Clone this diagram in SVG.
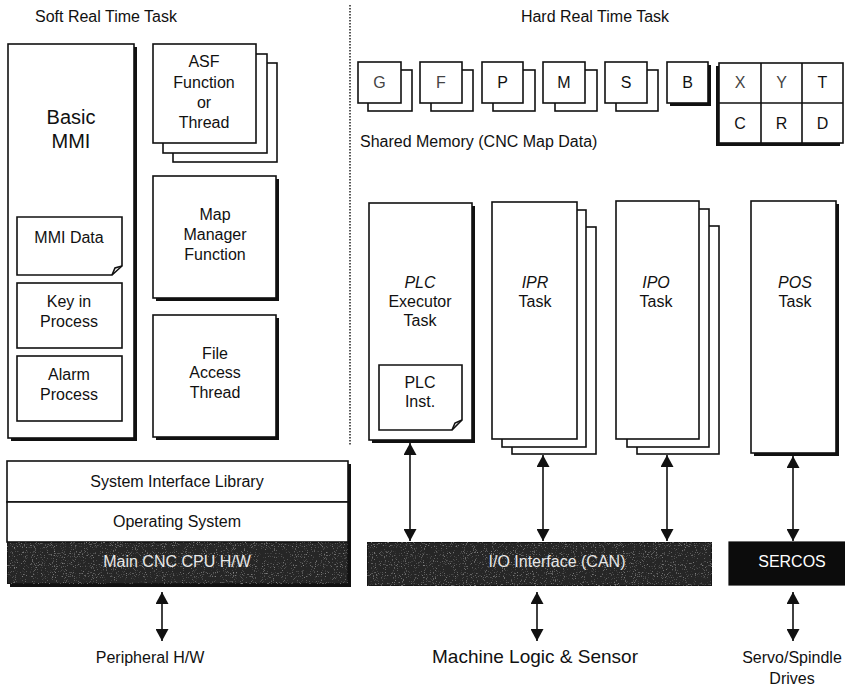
<svg xmlns="http://www.w3.org/2000/svg" width="845" height="689" viewBox="0 0 845 689">
  <style>
    text { font-family: "Liberation Sans", Arial, Helvetica, sans-serif; font-size: 16px; fill: #111; }
    .c { text-anchor: middle; }
    .it { font-style: italic; }
    .big { font-size: 20px; }
    .lbl { font-size: 19px; }
    .light { fill: #e8e8e8; }
    .white { fill: #ffffff; }
    .soft { fill: #444; }
    .box { fill: #fff; stroke: #111; stroke-width: 1.6; }
    .shadow { fill: #111; }
    .dark { fill: #262626; stroke: #111; stroke-width: 1.2; }
    .black { fill: #0c0c0c; stroke: #0c0c0c; stroke-width: 1.2; }
    .line { fill: none; stroke: #111; stroke-width: 1.6; }
    .arrow { fill: none; stroke: #111; stroke-width: 1.6; marker-start: url(#head); marker-end: url(#head); }
    .divider { fill: none; stroke: #222; stroke-width: 1.5; stroke-dasharray: 1.5 1.5; }
  </style>
  <defs>
    <marker id="head" viewBox="0 0 12 13" refX="12" refY="6.5" markerWidth="12" markerHeight="13" markerUnits="userSpaceOnUse" orient="auto-start-reverse">
      <path d="M0,0 L12,6.5 L0,13 Z" fill="#111"/>
    </marker>
    <!-- speckled texture for the hardware bars -->
    <filter id="grain" x="0" y="0" width="1" height="1">
      <feTurbulence type="fractalNoise" baseFrequency="0.9" numOctaves="2" seed="7" result="n"/>
      <feColorMatrix in="n" type="matrix" values="0 0 0 0 0.5  0 0 0 0 0.5  0 0 0 0 0.5  0 0 0 1.8 -1.1" result="g"/>
      <feComposite in="g" in2="SourceGraphic" operator="in" result="gi"/>
      <feMerge><feMergeNode in="SourceGraphic"/><feMergeNode in="gi"/></feMerge>
    </filter>
  </defs>

  <!-- section titles and divider -->
  <text x="35" y="22">Soft Real Time Task</text>
  <text x="595" y="22" class="c">Hard Real Time Task</text>
  <line x1="350" y1="5" x2="350" y2="446" class="divider"/>

  <!-- soft real time side -->
  <g id="basic-mmi">
    <rect x="11" y="47" width="126" height="394" class="shadow"/>
    <rect x="8" y="44" width="126" height="394" class="box"/>
    <text x="71" y="124" class="c big">Basic</text>
    <text x="71" y="148" class="c big">MMI</text>
  </g>
  <g id="mmi-data">
    <path d="M17,217 H122 V266 L112,275 H17 Z" class="box"/>
    <path d="M112,275 L115,268 L122,266" class="line"/>
    <text x="69" y="243" class="c">MMI Data</text>
  </g>
  <g id="key-in-process">
    <rect x="17" y="283" width="105" height="65" class="box"/>
    <text x="69" y="307" class="c">Key in</text>
    <text x="69" y="327" class="c">Process</text>
  </g>
  <g id="alarm-process">
    <rect x="17" y="356" width="105" height="65" class="box"/>
    <text x="69" y="380" class="c">Alarm</text>
    <text x="69" y="400" class="c">Process</text>
  </g>
  <g id="asf-function">
    <rect x="173" y="63" width="104" height="99" class="box"/>
    <rect x="163" y="54" width="104" height="99" class="box"/>
    <rect x="153" y="44" width="103" height="99" class="box"/>
    <text x="204" y="67" class="c">ASF</text>
    <text x="204" y="88" class="c">Function</text>
    <text x="204" y="108" class="c">or</text>
    <text x="204" y="128" class="c">Thread</text>
  </g>
  <g id="map-manager">
    <rect x="156" y="179" width="123" height="122" class="shadow"/>
    <rect x="153" y="176" width="123" height="122" class="box"/>
    <text x="215" y="220" class="c">Map</text>
    <text x="215" y="240" class="c">Manager</text>
    <text x="215" y="260" class="c">Function</text>
  </g>
  <g id="file-access">
    <rect x="156" y="318" width="123" height="122" class="shadow"/>
    <rect x="153" y="315" width="123" height="122" class="box"/>
    <text x="215" y="359" class="c">File</text>
    <text x="215" y="378" class="c">Access</text>
    <text x="215" y="398" class="c">Thread</text>
  </g>

  <!-- system layers -->
  <g id="system-interface-library">
    <rect x="10" y="464" width="341" height="123" class="shadow"/>
    <rect x="7" y="461" width="341" height="41" class="box"/>
    <text x="177" y="487" class="c">System Interface Library</text>
  </g>
  <g id="operating-system">
    <rect x="7" y="502" width="341" height="40" class="box"/>
    <text x="177" y="527" class="c">Operating System</text>
  </g>
  <g id="main-cpu-hw">
    <rect x="7" y="542" width="341" height="42" class="dark" filter="url(#grain)"/>
    <text x="177" y="567" class="c light">Main CNC CPU H/W</text>
  </g>
  <g id="peripheral-hw">
    <text x="150" y="663" class="c">Peripheral H/W</text>
  </g>

  <!-- shared memory -->
  <g id="mem-g">
    <rect x="368" y="70" width="44" height="41" class="box"/>
    <rect x="358" y="62" width="43" height="41" class="box"/>
    <text x="379.5" y="88" class="c soft">G</text>
  </g>
  <g id="mem-f">
    <rect x="431" y="70" width="42" height="41" class="box"/>
    <rect x="420" y="62" width="42" height="41" class="box"/>
    <text x="441" y="88" class="c soft">F</text>
  </g>
  <g id="mem-p">
    <rect x="493" y="70" width="42" height="41" class="box"/>
    <rect x="482" y="62" width="41" height="41" class="box"/>
    <text x="502.5" y="88" class="c">P</text>
  </g>
  <g id="mem-m">
    <rect x="555" y="70" width="42" height="41" class="box"/>
    <rect x="543" y="62" width="42" height="41" class="box"/>
    <text x="564" y="88" class="c">M</text>
  </g>
  <g id="mem-s">
    <rect x="616" y="70" width="42" height="41" class="box"/>
    <rect x="605" y="62" width="42" height="41" class="box"/>
    <text x="626" y="88" class="c">S</text>
  </g>
  <g id="mem-b">
    <rect x="670" y="65" width="41" height="41" class="shadow"/>
    <rect x="667" y="62" width="41" height="41" class="box"/>
    <text x="687.5" y="88" class="c">B</text>
  </g>
  <g id="mem-grid">
    <rect x="716" y="66" width="124" height="80" class="shadow"/>
    <rect x="719" y="63" width="124" height="80" class="box"/>
    <path d="M761,63 V143 M802,63 V143 M719,103 H843" class="line"/>
    <text x="740" y="88" class="c soft">X</text>
    <text x="781.5" y="88" class="c soft">Y</text>
    <text x="822.5" y="88" class="c">T</text>
    <text x="740" y="129" class="c">C</text>
    <text x="781.5" y="129" class="c">R</text>
    <text x="822.5" y="129" class="c">D</text>
  </g>
  <text x="360" y="147">Shared Memory (CNC Map Data)</text>

  <!-- hard real time tasks -->
  <g id="plc-executor">
    <rect x="372" y="206" width="103" height="237" class="shadow"/>
    <rect x="369" y="203" width="103" height="237" class="box"/>
    <text x="420" y="288" class="c it">PLC</text>
    <text x="420" y="307" class="c">Executor</text>
    <text x="420" y="326" class="c">Task</text>
  </g>
  <g id="plc-inst">
    <path d="M379,365 H462 V420 L452,430 H379 Z" class="box"/>
    <path d="M452,430 L455,423 L462,420" class="line"/>
    <text x="420" y="388" class="c">PLC</text>
    <text x="420" y="407" class="c">Inst.</text>
  </g>
  <g id="ipr-task">
    <rect x="512" y="227" width="84" height="227" class="box"/>
    <rect x="502" y="210" width="84" height="237" class="box"/>
    <rect x="492" y="202" width="85" height="237" class="box"/>
    <text x="535" y="288" class="c it">IPR</text>
    <text x="535" y="307" class="c">Task</text>
  </g>
  <g id="ipo-task">
    <rect x="637" y="226" width="82" height="228" class="box"/>
    <rect x="627" y="209" width="82" height="238" class="box"/>
    <rect x="616" y="201" width="83" height="238" class="box"/>
    <text x="656" y="288" class="c it">IPO</text>
    <text x="656" y="307" class="c">Task</text>
  </g>
  <g id="pos-task">
    <rect x="754" y="204" width="85" height="252" class="shadow"/>
    <rect x="751" y="201" width="85" height="252" class="box"/>
    <text x="795" y="288" class="c it">POS</text>
    <text x="795" y="307" class="c">Task</text>
  </g>

  <!-- field buses -->
  <g id="io-interface">
    <rect x="367" y="542" width="345" height="44" class="dark" filter="url(#grain)"/>
    <text x="557" y="567" class="c light">I/O Interface (CAN)</text>
  </g>
  <g id="sercos">
    <rect x="729" y="542" width="116" height="43" class="black"/>
    <text x="792" y="567" class="c white">SERCOS</text>
  </g>
  <g id="machine-logic">
    <text x="535" y="663" class="c lbl">Machine Logic &amp; Sensor</text>
  </g>
  <g id="servo-drives">
    <text x="792" y="663" class="c">Servo/Spindle</text>
    <text x="792" y="684" class="c">Drives</text>
  </g>

  <!-- connectors -->
  <g id="connectors">
    <line x1="162" y1="592" x2="162" y2="641" class="arrow"/>
    <line x1="410" y1="443" x2="410" y2="541" class="arrow"/>
    <line x1="543" y1="455" x2="543" y2="541" class="arrow"/>
    <line x1="667" y1="455" x2="667" y2="541" class="arrow"/>
    <line x1="793" y1="456" x2="793" y2="541" class="arrow"/>
    <line x1="537" y1="592" x2="537" y2="641" class="arrow"/>
    <line x1="793" y1="592" x2="793" y2="641" class="arrow"/>
  </g>
</svg>
